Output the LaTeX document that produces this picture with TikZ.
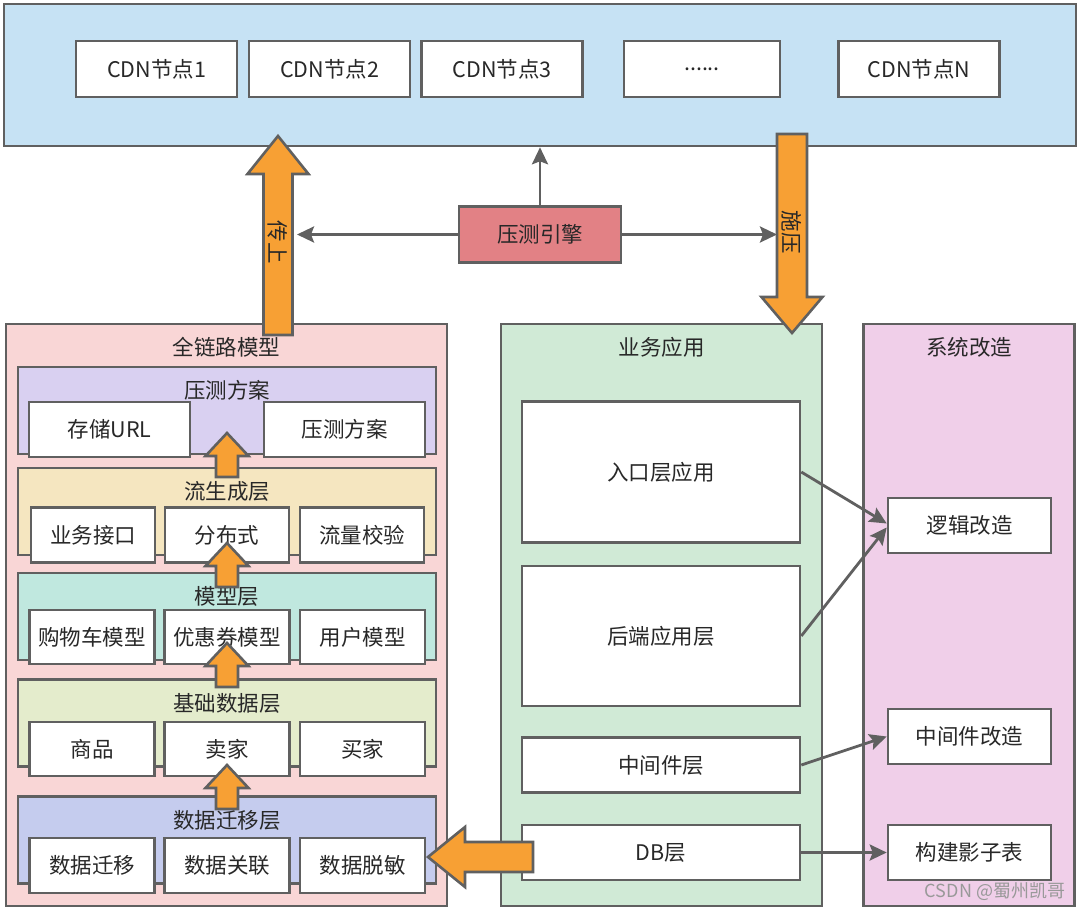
\documentclass[tikz,border=0pt]{standalone}
\usepackage{fontspec}
\setmainfont{Noto Sans CJK SC}
\usepackage{xcolor}
\usepackage{tikz}
\usetikzlibrary{arrows.meta,positioning,calc}
\definecolor{linegray}{RGB}{96,96,96}
\definecolor{textgray}{RGB}{40,40,40}
\definecolor{cdnblue}{RGB}{198,226,244}
\definecolor{enginered}{RGB}{226,129,133}
\definecolor{fatorange}{RGB}{247,160,52}
\definecolor{chainpink}{RGB}{249,214,214}
\definecolor{planpurple}{RGB}{217,208,241}
\definecolor{flowyellow}{RGB}{245,230,192}
\definecolor{modelteal}{RGB}{192,232,223}
\definecolor{basegreen}{RGB}{228,236,204}
\definecolor{migrateblue}{RGB}{197,204,238}
\definecolor{bizgreen}{RGB}{208,234,214}
\definecolor{fixpink}{RGB}{240,207,233}

\newcommand{\boxfont}{\fontsize{21.5}{25}\selectfont}
% fat arrow: tail, angle, length, shaft half, head half, head length
\newcommand{\fatarrow}[6]{%
  \begin{scope}[shift={(#1)}, rotate=#2]
    \draw[fatbody] (0,-#4) -- ({#3-#6},-#4) -- ({#3-#6},-#5) -- (#3,0)
      -- ({#3-#6},#5) -- ({#3-#6},#4) -- (0,#4) -- cycle;
  \end{scope}}

\begin{document}
\begin{tikzpicture}[
  x=1pt, y=-1pt,
  panel/.style={draw=linegray, line width=2.6pt},
  cell/.style={draw=linegray, line width=2.6pt, fill=white, text=textgray, font=\boxfont, inner sep=0pt},
  layer/.style={draw=linegray, line width=2.6pt, minimum width=418pt, minimum height=87pt},
  heading/.style={text=textgray, font=\boxfont, inner sep=0pt},
  link/.style={draw=linegray, line width=2.8pt, -{Stealth[length=17pt,width=16pt,inset=3pt]}},
  fatbody/.style={draw=linegray, fill=fatorange, line width=2.6pt, line join=miter},
  fattext/.style={text=textgray, font=\boxfont, inner sep=0pt}
]
  \useasboundingbox (0,0) rectangle (1080,913);

  % CDN zone
  \node[panel, fill=cdnblue, minimum width=1072pt, minimum height=142pt] (cdnzone) at (540,75) {};
  \node[cell, minimum width=161pt, minimum height=56pt] (cdn1) at (156.5,69) {CDN节点1};
  \node[cell, minimum width=161pt, minimum height=56pt] (cdn2) at (329.5,69) {CDN节点2};
  \node[cell, minimum width=161pt, minimum height=56pt] (cdn3) at (502,69) {CDN节点3};
  \node[cell, minimum width=156pt, minimum height=56pt] (cdndots) at (702,69) {......};
  \node[cell, minimum width=161pt, minimum height=56pt] (cdnN) at (919,69) {CDN节点N};

  \node[cell, fill=enginered, minimum width=162pt, minimum height=56pt] (engine) at (540,234.5) {压测引擎};

  % full-link model
  \node[panel, fill=chainpink, minimum width=441pt, minimum height=582pt] (chain) at (226.5,615) {};
  \node[heading] (chaintitle) at (226.5,347) {全链路模型};

  \node[layer, fill=planpurple] (plan) at (227,410.5) {};
  \node[heading] (plantitle) at (227,390) {压测方案};
  \node[cell, minimum width=161pt, minimum height=55pt] (storeurl) at (109.5,429.5) {存储URL};
  \node[cell, minimum width=161pt, minimum height=55pt] (planbox) at (344.5,429.5) {压测方案};

  \node[layer, fill=flowyellow] (flow) at (227,511.5) {};
  \node[heading] (flowtitle) at (227,491) {流生成层};
  \node[cell, minimum width=124pt, minimum height=55pt] (bizapi) at (93,535) {业务接口};
  \node[cell, minimum width=124pt, minimum height=55pt] (distrib) at (227,535) {分布式};
  \node[cell, minimum width=124pt, minimum height=55pt] (flowcheck) at (362,535) {流量校验};

  \node[layer, fill=modelteal] (model) at (227,616.5) {};
  \node[heading] (modeltitle) at (227,596) {模型层};
  \node[cell, minimum width=125pt, minimum height=54pt] (cart) at (92,637) {购物车模型};
  \node[cell, minimum width=125pt, minimum height=54pt] (coupon) at (227,637) {优惠券模型};
  \node[cell, minimum width=125pt, minimum height=54pt] (usermodel) at (362.5,637) {用户模型};

  \node[layer, fill=basegreen] (base) at (227,723) {};
  \node[heading] (basetitle) at (227,703) {基础数据层};
  \node[cell, minimum width=125pt, minimum height=54pt] (goods) at (92,749) {商品};
  \node[cell, minimum width=125pt, minimum height=54pt] (seller) at (227,749) {卖家};
  \node[cell, minimum width=125pt, minimum height=54pt] (buyer) at (362.5,749) {买家};

  \node[layer, fill=migrateblue] (migrate) at (227,840) {};
  \node[heading] (migratetitle) at (227,820) {数据迁移层};
  \node[cell, minimum width=125pt, minimum height=55pt] (datamove) at (92,865.5) {数据迁移};
  \node[cell, minimum width=125pt, minimum height=55pt] (datalink) at (227,865.5) {数据关联};
  \node[cell, minimum width=125pt, minimum height=55pt] (datamask) at (362.5,865.5) {数据脱敏};

  % business apps
  \node[panel, fill=bizgreen, minimum width=321pt, minimum height=582pt] (biz) at (661.5,615) {};
  \node[heading] (biztitle) at (661.5,347) {业务应用};
  \node[cell, minimum width=278pt, minimum height=141pt] (entry) at (661,472) {入口层应用};
  \node[cell, minimum width=278pt, minimum height=140pt] (backend) at (661,636) {后端应用层};
  \node[cell, minimum width=278pt, minimum height=55pt] (middle) at (661,765) {中间件层};
  \node[cell, minimum width=278pt, minimum height=55pt] (db) at (661,852.5) {DB层};

  % system changes
  \node[panel, fill=fixpink, minimum width=211pt, minimum height=582pt] (sysfix) at (969,615) {};
  \node[heading] (sysfixtitle) at (969,347) {系统改造};
  \node[cell, minimum width=163pt, minimum height=55pt] (logic) at (969.5,525.5) {逻辑改造};
  \node[cell, minimum width=163pt, minimum height=55pt] (midfix) at (969.5,736.5) {中间件改造};
  \node[cell, minimum width=163pt, minimum height=55pt] (shadow) at (969.5,852.5) {构建影子表};

  % thin connectors
  \coordinate (uploadhit) at (297,234.5);
  \coordinate (presshit) at (777,234.5);
  \draw[link] (engine.north) -- (engine.north |- cdnzone.south);
  \draw[link] (engine.west) -- (uploadhit);
  \draw[link] (engine.east) -- (presshit);
  \draw[link] (entry.east) -- ([yshift=2pt]logic.west);
  \draw[link] (backend.east) -- ([yshift=-2pt]logic.west);
  \draw[link] (middle.east) -- (midfix.west);
  \draw[link] (db.east) -- (shadow.west);

  % fat arrows
  \coordinate (uploadtail) at (278,335);
  \coordinate (presstail) at (792,134);
  \coordinate (dbtail) at (533,857);
  \fatarrow{uploadtail}{90}{199}{14.5}{30.5}{38}
  \fatarrow{presstail}{-90}{199}{15}{30.5}{36}
  \fatarrow{dbtail}{180}{105}{15}{30}{37}
  \foreach \tail in {477,587,687,809}{
    \fatarrow{227,\tail}{90}{44}{11}{21.5}{23}
  }

  \node[fattext, rotate=-90] (uploadtxt) at (278,242) {传上};
  \node[fattext, rotate=-90] (presstxt) at (792,232) {施压};

  \node[text=black!40, font=\fontsize{18}{20}\selectfont, inner sep=0pt] (mark) at (995,892) {CSDN @蜀州凯哥};
\end{tikzpicture}
\end{document}
